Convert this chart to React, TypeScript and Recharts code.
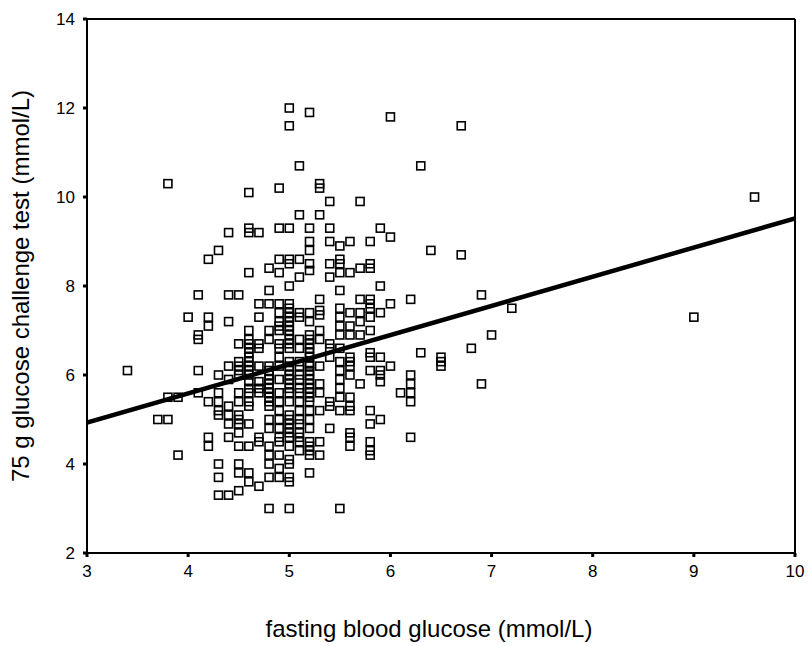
import { ScatterChart, Scatter, XAxis, YAxis, ReferenceLine } from "recharts";

// fasting blood glucose columns (mmol/L) and the 75 g OGTT readings seen in each
const fbgValues = [
  3.4, 3.7, 3.8, 3.9, 4.0, 4.1, 4.2, 4.3, 4.4, 4.5, 4.6, 4.7, 4.8, 4.9, 5.0, 5.1, 5.2, 5.3,
  5.4, 5.5, 5.6, 5.7, 5.8, 5.9, 6.0, 6.1, 6.2, 6.3, 6.4, 6.5, 6.7, 6.8, 6.9, 7.0, 7.2, 9.0, 9.6,
];
const ogttValues = [
  [6.1],
  [5.0],
  [10.3, 5.5, 5.0],
  [5.5, 4.2],
  [7.3],
  [7.8, 6.9, 6.8, 6.1, 5.6],
  [8.6, 7.3, 7.1, 5.4, 4.6, 4.4],
  [8.8, 6.0, 5.6, 5.4, 5.2, 5.1, 4.0, 3.7, 3.3],
  [9.2, 7.8, 7.2, 6.2, 5.9, 5.3, 5.1, 4.9, 4.6, 3.3],
  [7.8, 6.7, 6.3, 6.2, 6.1, 6.0, 5.6, 5.4, 5.1, 5.0, 4.9, 4.7, 4.4, 4.0, 3.8, 3.4],
  [10.1, 9.3, 9.2, 8.3, 7.0, 6.8, 6.7, 6.6, 6.5, 6.4, 6.3, 6.2, 6.1, 6.0, 5.85, 5.7, 5.6, 5.4, 5.3, 4.9, 4.4, 3.8, 3.6],
  [9.2, 7.6, 7.3, 6.7, 6.6, 6.2, 5.85, 5.7, 5.6, 4.6, 4.5, 3.5],
  [8.4, 7.9, 7.6, 7.0, 6.8, 6.2, 6.1, 6.0, 5.9, 5.8, 5.7, 5.6, 5.5, 5.4, 5.3, 5.0, 4.8, 4.4, 4.2, 4.0, 3.7, 3.0],
  [10.2, 9.3, 8.6, 8.3, 7.6, 7.4, 7.2, 7.1, 7.0, 6.7, 6.6, 6.4, 6.2, 5.9, 5.6, 5.4, 5.2, 5.0, 4.8, 4.6, 4.5, 4.2, 3.9, 3.7],
  [12.0, 11.6, 9.3, 8.6, 8.5, 8.0, 7.6, 7.5, 7.4, 7.3, 7.2, 7.1, 7.0, 6.9, 6.8, 6.7, 6.6, 6.3, 6.2, 6.1, 6.0, 5.9, 5.8, 5.7, 5.6, 5.4, 5.1, 5.0, 4.9, 4.8, 4.7, 4.6, 4.4, 4.1, 4.0, 3.7, 3.6, 3.0],
  [10.7, 9.6, 8.6, 8.2, 7.4, 7.3, 6.8, 6.6, 6.3, 6.2, 6.0, 5.9, 5.7, 5.6, 5.4, 5.2, 5.0, 4.9, 4.7, 4.6, 4.5, 4.3],
  [11.9, 9.3, 9.0, 8.8, 8.5, 8.35, 7.4, 7.2, 6.9, 6.8, 6.7, 6.6, 6.5, 6.4, 6.25, 6.2, 6.1, 6.0, 5.9, 5.8, 5.7, 5.6, 5.5, 5.4, 5.2, 5.0, 4.8, 4.5, 4.4, 4.3, 4.2, 3.8],
  [10.3, 10.2, 9.6, 7.7, 7.45, 7.35, 7.0, 6.8, 6.2, 5.8, 5.6, 5.2, 4.5, 4.2],
  [9.9, 9.3, 9.0, 8.5, 8.2, 6.7, 6.6, 6.4, 5.4, 5.3, 4.8],
  [8.9, 8.6, 8.5, 8.3, 7.9, 7.5, 7.3, 7.1, 6.9, 6.6, 6.3, 6.1, 5.9, 5.7, 5.5, 5.2, 3.0],
  [9.0, 8.3, 7.4, 7.1, 6.9, 6.4, 6.3, 6.2, 6.0, 5.5, 5.3, 5.2, 4.7, 4.6, 4.4],
  [9.9, 8.4, 7.7, 7.4, 7.2, 6.9, 5.8],
  [9.0, 8.5, 8.4, 7.7, 7.6, 7.5, 7.3, 7.0, 6.5, 6.4, 6.1, 5.2, 4.9, 4.5, 4.3, 4.2],
  [9.3, 8.0, 7.4, 6.4, 6.1, 6.0, 5.85, 5.0],
  [11.8, 9.1, 7.6, 6.2],
  [5.6],
  [7.7, 6.0, 5.8, 5.6, 5.4, 4.6],
  [10.7, 6.5],
  [8.8],
  [6.4, 6.3, 6.2],
  [11.6, 8.7],
  [6.6],
  [7.8, 5.8],
  [6.9],
  [7.5],
  [7.3],
  [10.0],
];

const fitX = [3, 10];
const fitY = [4.93, 9.52];

const xTicks = [3, 4, 5, 6, 7, 8, 9, 10];
const yTicks = [2, 4, 6, 8, 10, 12, 14];

const points = fbgValues.flatMap((x, i) => ogttValues[i].map((y) => ({ x, y })));
const fitLine = fitX.map((x, i) => ({ x, y: fitY[i] }));

const font = "'Liberation Sans', Arial, sans-serif";

const HollowSquare = (props: any) => {
  const { cx, cy } = props;
  if (cx == null || cy == null) return <g />;
  return <rect x={cx - 4} y={cy - 4} width={8} height={8} fill="none" stroke="#000" strokeWidth={1.6} />;
};

export default function App() {
  return (
    <div style={{ position: "absolute", left: 0, top: 0, background: "#fff" }}>
      <ScatterChart width={808} height={646} margin={{ top: 19, right: 13, left: 0, bottom: 3 }}>
        <XAxis
          type="number"
          dataKey="x"
          domain={[3, 10]}
          ticks={xTicks}
          allowDataOverflow
          height={90}
          axisLine={{ stroke: "#000", strokeWidth: 2 }}
          tickLine={{ stroke: "#000", strokeWidth: 3 }}
          tickSize={4}
          tickMargin={8}
          tick={{ fill: "#000", fontSize: 17, fontFamily: font }}
          label={{
            value: "fasting blood glucose (mmol/L)",
            position: "insideBottom",
            offset: 6,
            dx: -12,
            style: { fill: "#000", fontSize: 24, fontFamily: font },
          }}
        />
        <YAxis
          type="number"
          dataKey="y"
          domain={[2, 14]}
          ticks={yTicks}
          allowDataOverflow
          width={87}
          axisLine={{ stroke: "#000", strokeWidth: 2 }}
          tickLine={{ stroke: "#000", strokeWidth: 3 }}
          tickSize={4}
          tickMargin={8}
          tick={{ fill: "#000", fontSize: 17, fontFamily: font }}
          label={{
            value: "75 g glucose challenge test (mmol/L)",
            angle: -90,
            position: "insideLeft",
            offset: 20,
            style: { fill: "#000", fontSize: 24, fontFamily: font, textAnchor: "middle" },
          }}
        />
        <ReferenceLine y={14} stroke="#000" strokeWidth={2} />
        <ReferenceLine x={10} stroke="#000" strokeWidth={2} />
        <Scatter data={points} shape={HollowSquare} isAnimationActive={false} />
        <Scatter
          data={fitLine}
          line={{ stroke: "#000", strokeWidth: 4.5 }}
          shape={() => <g />}
          isAnimationActive={false}
        />
      </ScatterChart>
    </div>
  );
}
